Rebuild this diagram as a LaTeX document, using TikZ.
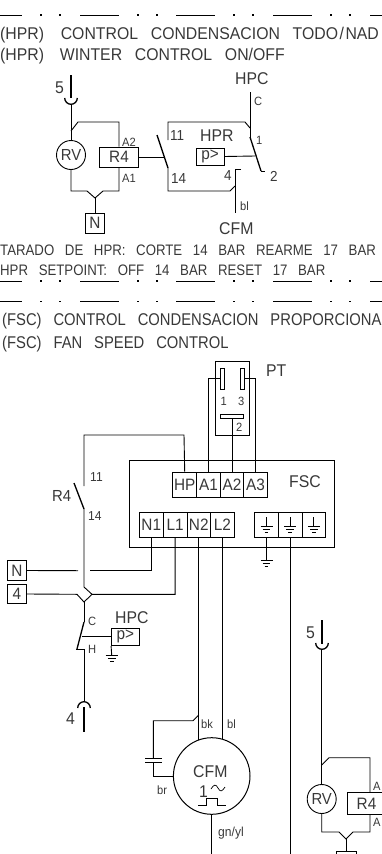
\documentclass[tikz,border=0pt]{standalone}
\usepackage{fontspec}
\setmainfont{Liberation Sans}
\newfontfamily\cad[FakeStretch=0.93,WordSpace=2.9]{Liberation Sans}
\newfontfamily\cadn[FakeStretch=0.87,WordSpace=2.9]{Liberation Sans}
\colorlet{ink}{black!78}
\tikzset{
  wire/.style={line width=0.9pt,line join=miter},
  heavy/.style={line width=1.3pt},
  bx/.style={draw,line width=0.9pt,inner sep=0pt,text=ink,font=\cad\fontsize{16.5}{16}\selectfont},
  term/.style={bx,minimum width=23.7pt,minimum height=25pt},
  big/.style={anchor=base west,inner sep=0pt,font=\cad\fontsize{17}{17}\selectfont,text=ink},
  bign/.style={anchor=base west,inner sep=0pt,font=\cadn\fontsize{17}{17}\selectfont,text=ink},
  tx/.style={anchor=base west,inner sep=0pt,font=\cadn\fontsize{15.2}{16}\selectfont,text=ink},
  mid/.style={anchor=base west,inner sep=0pt,font=\cad\fontsize{14.5}{15}\selectfont,text=ink},
  sm/.style={anchor=base west,inner sep=0pt,font=\cad\fontsize{12}{13}\selectfont,text=ink},
  dashline/.style={line width=1pt}
}
\newcommand{\dashrow}[1]{%
  \draw[dashline] (0,#1) -- (22,#1) (80,#1) -- (119,#1) (176,#1) -- (215,#1) (273,#1) -- (312,#1) (370,#1) -- (382,#1);
  \foreach \dx in {41,60,138,157,234,253,331,350}{\fill (\dx-0.7,#1-0.7) rectangle (\dx+0.7,#1+0.7);}
}
\newcommand{\earth}[3]{% x y(top bar) halfwidth
  \draw[wire] (#1-#3,#2) -- (#1+#3,#2) (#1-#3*0.65,#2+3.2) -- (#1+#3*0.65,#2+3.2) (#1-#3*0.3,#2+6.4) -- (#1+#3*0.3,#2+6.4);
}
\begin{document}
\begin{tikzpicture}[x=1pt,y=-1pt]
\useasboundingbox (0,0) rectangle (382,854);
\clip (0,0) rectangle (382,854);
\dashrow{15}\dashrow{281}\dashrow{301.5}
% titles
\node[big] (t1) at (0,39) {(HPR)\hspace{4pt} CONTROL CONDENSACION TODO\hspace{1.5pt}/\hspace{1.5pt}NAD};
\node[big] (t2) at (0,60) {(HPR)\hspace{3pt} WINTER CONTROL ON/OFF};
\node[tx] (t3) at (0,255) {TARADO DE HPR: CORTE 14 BAR REARME 17 BAR};
\node[tx] (t4) at (0,275) {HPR SETPOINT: OFF 14 BAR RESET 17 BAR};
\node[bign] (t5) at (2,325) {(FSC) CONTROL CONDENSACION PROPORCIONA};
\node[bign] (t6) at (2,348) {(FSC) FAN SPEED CONTROL};
% upper circuit
\node[big] (l5a) at (55,93) {5};
\coordinate (w5a) at (71,75);
\draw[wire,heavy] (w5a) -- (71,98);
\draw[wire,heavy] (64.7,98) arc[start angle=180,end angle=0,radius=6.3];
\node[circle,draw,line width=0.9pt,minimum size=29pt,inner sep=0pt,text=ink,font=\cad\fontsize{16}{16}\selectfont] (rva) at (71,155) {RV};
\node[bx,minimum width=38.5pt,minimum height=20pt] (r4a) at (119,157) {R4};
\node[bx,minimum width=19.5pt,minimum height=20pt] (na) at (95,223) {N};
\node[bx,minimum width=28pt,minimum height=17pt] (pa) at (210,156.5) {p>};
\coordinate (ya) at (95,198);
\draw[wire] (71,104) -- (rva.north);
\draw[wire] (71,131) -- (78,122) -- (119,122) -- (r4a.north);
\draw[wire] (rva.south) -- (71,191) -- (87,191) -- (ya) -- (103,191) -- (119,191) -- (r4a.south);
\draw[wire] (ya) -- (na.north);
\draw[wire] (r4a.east) -- (165,157);
\draw[wire,heavy] (157,135) -- (168,168);
\draw[wire] (168,168) -- (168,191) -- (230,191) -- (235,186);
\draw[wire] (168,140) -- (168,122) -- (245,122) -- (250,128);
\draw[wire] (250,92) -- (250,137);
\draw[wire,heavy] (250,137) -- (261,171);
\draw[wire] (261,171) -- (265,171);
\draw[wire] (pa.east) -- (255,156);
\draw[wire] (241,169) -- (235,169) -- (235,213);
\node[big] at (235,84) {HPC};
\node[sm] at (254,105) {C};
\node[sm] at (256,144) {1};
\node[mid] at (270,181) {2};
\node[mid] at (224,180) {4};
\node[mid] at (171,183) {14};
\node[mid] at (170,140) {11};
\node[big] at (200,141) {HPR};
\node[sm] at (122,146) {A2};
\node[sm] at (122,182.5) {A1};
\node[sm] at (240,210) {bl};
\node[big] at (219,234) {CFM};
% PT
\node[draw,line width=0.9pt,minimum width=33.6pt,minimum height=73.3pt,inner sep=0] (pt) at (232.5,398.3) {};
\node[draw,line width=0.9pt,minimum width=3.6pt,minimum height=21pt,inner sep=0] (pt1) at (222.4,378.5) {};
\node[draw,line width=0.9pt,minimum width=3.6pt,minimum height=21pt,inner sep=0] (pt3) at (242.7,378.5) {};
\node[draw,line width=0.9pt,minimum width=22.5pt,minimum height=4.5pt,inner sep=0] (pt2) at (232,416.5) {};
\node[big] at (266,376) {PT};
\node[sm] at (220.5,405) {1};
\node[sm] at (238,405) {3};
\node[sm] at (236,431) {2};
% FSC
\node[draw,line width=0.9pt,minimum width=205pt,minimum height=87pt,inner sep=0] (fsc) at (231.5,503.5) {};
\node[term] (hp) at (184.7,484.5) {HP};
\node[term] (a1) at (208.5,484.5) {A1};
\node[term] (a2) at (232,484.5) {A2};
\node[term] (a3) at (255.5,484.5) {A3};
\node[term] (n1) at (151.3,525) {N1};
\node[term] (l1) at (175.1,525) {L1};
\node[term] (n2) at (198.8,525) {N2};
\node[term] (l2) at (222.5,525) {L2};
\node[term] (e1) at (266.5,525) {};
\node[term] (e2) at (290.2,525) {};
\node[term] (e3) at (313.9,525) {};
\foreach \ex in {266.5,290.2,313.9}{
  \draw[wire] (\ex,517) -- (\ex,526);
  \earth{\ex}{526}{6}
}
\node[big] at (289,487.7) {FSC};
\draw[wire] (pt1.west) -- (208.5,378.5) -- (a1.north);
\draw[wire] (pt3.east) -- (255.5,378.5) -- (a3.north);
\draw[wire] (pt2.south) -- (a2.north);
\draw[wire] (hp.north) -- (184,435) -- (84,435) -- (84,486);
\draw[wire,heavy] (74,483) -- (84,509);
\draw[wire] (84,509) -- (84,587) -- (92,594.3);
\node[mid,font=\cad\fontsize{13}{13}\selectfont] at (90,481) {11};
\node[mid,font=\cad\fontsize{13}{13}\selectfont] at (88,520) {14};
\node[mid,font=\cad\fontsize{16}{16}\selectfont] at (52,501) {R4};
\node[bx,minimum width=19.5pt,minimum height=19.5pt] (nb) at (17,570.5) {N};
\node[bx,minimum width=19.5pt,minimum height=19.5pt] (fb) at (17,594) {4};
\draw[wire] (n1.south) -- (151.3,570.7) -- (90,570.7);
\draw[wire] (nb.east) -- (78,570.7);
\draw[wire] (fb.east) -- (77,594.3) -- (84,602) -- (92,594.3) -- (175.1,594.3) -- (l1.south);
\draw[wire] (84,602) -- (84,622);
\draw[wire,heavy] (84,622) -- (77,649);
\draw[wire] (76,649) -- (84,649) -- (84,702);
\draw[wire,heavy] (77.7,708) arc[start angle=180,end angle=360,radius=6.3];
\draw[wire,heavy] (84,707) -- (84,732);
\node[bx,minimum width=27.5pt,minimum height=17.7pt] (pb) at (125.3,636.8) {p>};
\draw[wire] (81.5,636.8) -- (pb.west);
\draw[wire] (pb.south west) -- (111.7,655);
\earth{111.7}{655}{6}
\node[sm] at (88,625) {C};
\node[sm] at (88,653) {H};
\node[big] at (115,623) {HPC};
\node[big] at (66,724.5) {4};
% ground and motor
\draw[wire] (e1.south) -- (266.5,560);
\earth{266.5}{560}{6}
\draw[wire] (e2.south) -- (290.2,854);
\node[circle,draw,line width=1pt,minimum size=76.6pt,inner sep=0] (cfm) at (211.7,776) {};
\draw[wire] (n2.south) -- (198.8,740);
\draw[wire] (l2.south) -- (222.5,739);
\draw[wire] (198.8,715) -- (193,720.7) -- (153.3,720.7) -- (153.3,758);
\draw[wire] (145,758) -- (161.5,758) (145,762.7) -- (161.5,762.7);
\draw[wire] (153.3,762.7) -- (153.3,776) -- (cfm.west);
\draw[wire] (cfm.south) -- (211.7,854);
\draw[wire] (198.3,805) -- (206.7,805) -- (206.7,798.3) -- (217.3,798.3) -- (217.3,805) -- (226,805);
\draw[wire,line width=0.7pt] (211,789) .. controls (214,784) and (216,784) .. (218,788) .. controls (220,792) and (222,792) .. (225,787);
\node[big] at (193,777) {CFM};
\node[big] at (199,797) {1};
\node[sm] at (201,728) {bk};
\node[sm] at (227,728) {bl};
\node[sm] at (157,794) {br};
\node[mid,font=\cad\fontsize{13}{13}\selectfont] at (218,836) {gn/yl};
% lower right relay
\node[big] at (306,638) {5};
\draw[wire,heavy] (322,620) -- (322,644);
\draw[wire,heavy] (315.7,643) arc[start angle=180,end angle=0,radius=6.3];
\node[circle,draw,line width=0.9pt,minimum size=29pt,inner sep=0pt,text=ink,font=\cad\fontsize{16}{16}\selectfont] (rvb) at (321.7,799) {RV};
\node[bx,minimum width=38.5pt,minimum height=21.6pt] (r4b) at (366.5,803.5) {R4};
\node[bx,minimum width=20pt,minimum height=20pt] (nbb) at (346,861) {};
\coordinate (yb) at (346,839);
\draw[wire] (321.7,650) -- (rvb.north);
\draw[wire] (321.7,765) -- (329,757.7) -- (370,757.7) -- (370,792.7);
\draw[wire] (rvb.south) -- (321.7,832) -- (339,832) -- (yb) -- (353,832) -- (370,832) -- (370,814.3);
\draw[wire] (yb) -- (nbb.north);
\node[sm] at (373,790) {A};
\node[sm] at (373,826.5) {A};
\end{tikzpicture}
\end{document}
